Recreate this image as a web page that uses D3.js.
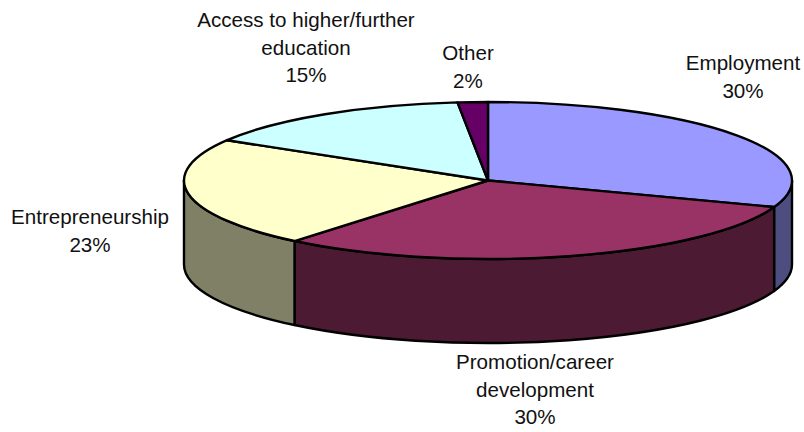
<!DOCTYPE html>
<html>
<head>
<meta charset="utf-8">
<script src="https://cdn.jsdelivr.net/npm/d3@7/dist/d3.min.js"></script>
<style>
  html, body { margin: 0; padding: 0; background: #fff; }
  svg { display: block; }
  text { font-family: "Liberation Sans", Arial, sans-serif; font-size: 20.6px; fill: #111; }
</style>
</head>
<body>
<svg id="chart" width="804" height="432"></svg>
<script>
// Survey shares, in percent; labels show them rounded to whole numbers.
const categories = ["Employment", "Promotion/career development", "Entrepreneurship", "Access to higher/further education", "Other"];
const shares = [30.49, 30.49, 22.6, 14.82, 1.6];
const topColours = ["#9999ff", "#993366", "#ffffcc", "#ccffff", "#660066"];
const wallColours = ["#4d4d80", "#4d1a33", "#808066", "#668080", "#330033"];

// Label layout: wrapped lines, centre x, first baseline.
const labelLines = [["Employment"], ["Promotion/career", "development"], ["Entrepreneurship"], ["Access to higher/further", "education"], ["Other"]];
const labelX = [743, 535, 90, 306, 468];
const labelY = [70, 369, 224, 27, 60];
const lineStep = 27.5;

const cx = 488, cy = 180.5, rx = 304, ry = 78.5, depth = 84;
const svg = d3.select("#chart");

const x = d3.scaleLinear().domain([-1, 1]).range([cx - rx, cx + rx]);
const y = d3.scaleLinear().domain([-1, 1]).range([cy - ry, cy + ry]);
const rim = a => [x(Math.sin(a)), y(-Math.cos(a))];

const slices = d3.pie().sort(null).value(d => d)(shares);

// Front wall: only the part of a slice between 90 and 270 degrees is visible.
function wallPath(d) {
  const a0 = Math.max(d.startAngle, Math.PI / 2);
  const a1 = Math.min(d.endAngle, 3 * Math.PI / 2);
  if (a1 <= a0) return null;
  const [x0, y0] = rim(a0), [x1, y1] = rim(a1);
  return `M${x0},${y0}A${rx},${ry} 0 0 1 ${x1},${y1}L${x1},${y1 + depth}` +
         `A${rx},${ry} 0 0 0 ${x0},${y0 + depth}Z`;
}

// Top face: a wedge of the ellipse.
function topPath(d) {
  const [x0, y0] = rim(d.startAngle), [x1, y1] = rim(d.endAngle);
  const large = d.endAngle - d.startAngle > Math.PI ? 1 : 0;
  return `M${cx},${cy}L${x0},${y0}A${rx},${ry} 0 ${large} 1 ${x1},${y1}Z`;
}

const outline = selection => selection
  .attr("stroke", "#000")
  .attr("stroke-width", 2.4)
  .attr("stroke-linejoin", "round");

svg.append("g").selectAll("path")
  .data(slices.filter(d => wallPath(d)))
  .join("path")
  .attr("d", wallPath)
  .attr("fill", d => wallColours[d.index])
  .call(outline);

svg.append("g").selectAll("path")
  .data(slices)
  .join("path")
  .attr("d", topPath)
  .attr("fill", d => topColours[d.index])
  .call(outline);

const pct = d3.format(".0f");
svg.append("g").selectAll("text")
  .data(categories)
  .join("text")
  .attr("text-anchor", "middle")
  .attr("aria-label", d => d)
  .each(function (d, i) {
    const lines = [...labelLines[i], pct(shares[i]) + "%"];
    d3.select(this).selectAll("tspan")
      .data(lines)
      .join("tspan")
      .attr("x", labelX[i])
      .attr("y", (_, k) => labelY[i] + k * lineStep)
      .text(t => t);
  });
</script>
</body>
</html>
